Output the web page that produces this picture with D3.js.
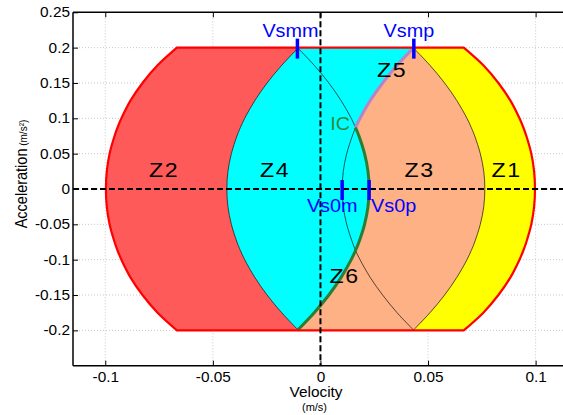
<!DOCTYPE html>
<html><head><meta charset="utf-8">
<script src="https://cdn.jsdelivr.net/npm/d3@7"></script>
<style>html,body{margin:0;padding:0;background:#fff;overflow:hidden}text{font-family:"Liberation Sans",Arial,sans-serif}</style>
</head><body><svg id="c" width="563" height="415"></svg>
<script>
// ---- data (velocity m/s vs acceleration m/s^2) ----
const accelLevels = [0.2, 0.175, 0.15, 0.125, 0.1, 0.087, 0.075, 0.05, 0.025, 0,
  -0.025, -0.05, -0.075, -0.087, -0.1, -0.125, -0.15, -0.175, -0.2];
const outerRightV = [0.0666, 0.0757, 0.0827, 0.0883, 0.0925, 0.0943, 0.0957, 0.098, 0.0993, 0.0997,
  0.0993, 0.098, 0.0957, 0.0943, 0.0925, 0.0883, 0.0827, 0.0757, 0.0666];
const outerLeftV = [-0.0667, -0.0757, -0.0827, -0.0883, -0.0925, -0.0943, -0.0957, -0.098, -0.0993, -0.0997,
  -0.0993, -0.098, -0.0957, -0.0943, -0.0925, -0.0883, -0.0827, -0.0757, -0.0667];
const z1z3V = [0.0431, 0.0509, 0.0577, 0.0634, 0.0681, 0.0701, 0.0717, 0.0743, 0.0759, 0.0764,
  0.0759, 0.0743, 0.0717, 0.0701, 0.0681, 0.0634, 0.0577, 0.0509, 0.0431];
const z2z4V = [-0.0102, -0.018, -0.0248, -0.0305, -0.0352, -0.0372, -0.0388, -0.0414, -0.043, -0.0435,
  -0.043, -0.0414, -0.0388, -0.0372, -0.0352, -0.0305, -0.0248, -0.018, -0.0102];
const curveAV = [-0.0107, -0.0029, 0.0039, 0.0096, 0.0143, 0.0163, 0.0179, 0.0205, 0.0221, 0.0226,
  0.0221, 0.0205, 0.0179, 0.0163, 0.0143, 0.0096, 0.0039, -0.0029, -0.0107];
const curveBV = [0.0434, 0.0356, 0.0289, 0.0231, 0.0184, 0.0163, 0.0148, 0.0122, 0.0106, 0.0101,
  0.0106, 0.0122, 0.0148, 0.0163, 0.0184, 0.0231, 0.0289, 0.0356, 0.0434];
const icIndex = 5; // IC point = accelLevels[5]
const xTicks = [-0.1, -0.05, 0, 0.05, 0.1];
const xTickLabels = ["-0.1", "-0.05", "0", "0.05", "0.1"];
const yTicks = [0.25, 0.2, 0.15, 0.1, 0.05, 0, -0.05, -0.1, -0.15, -0.2];
const yTickLabels = ["0.25", "0.2", "0.15", "0.1", "0.05", "0", "-0.05", "-0.1", "-0.15", "-0.2"];
const markerNames = ["Vsmm", "Vsmp", "Vs0m", "Vs0p"];
const markerV = [-0.0107, 0.0434, 0.0101, 0.0226];
const markerA = [0.2, 0.2, 0, 0];
const zoneNames = ["Z1", "Z2", "Z3", "Z4", "Z5", "Z6"];
const zoneV = [0.0865, -0.0727, 0.0461, -0.0211, 0.0333, 0.0112];
const zoneA = [0, 0, 0, 0, 0.142, -0.15];

// ---- layout ----
const W = 563, H = 415;
const x = d3.scaleLinear().domain([-0.115, 0.115]).range([73, 567.9]);
const y = d3.scaleLinear().domain([-0.25, 0.25]).range([365.7, 12.3]);
const svg = d3.select("#c");
const SX = 1.1;

const pts = vs => vs.map((v, i) => [v, accelLevels[i]]);
const line = d3.line().x(d => x(d[0])).y(d => y(d[1])).curve(d3.curveCatmullRom.alpha(0.5));
const join = (...ps) => ps.map((p, i) => i ? p.replace(/^M/, "L") : p).join("") + "Z";

const outerR = pts(outerRightV), outerL = pts(outerLeftV);
const z1z3 = pts(z1z3V), z2z4 = pts(z2z4V), A = pts(curveAV), B = pts(curveBV);
const outerLrev = outerL.slice().reverse();

// grid
const grid = svg.append("g").attr("stroke", "#c8c8c8").attr("stroke-width", 1).attr("stroke-dasharray", "1,2");
xTicks.forEach(t => grid.append("line").attr("x1", x(t)).attr("x2", x(t)).attr("y1", y(0.25)).attr("y2", y(-0.25)));
yTicks.filter(t => t < 0.25).forEach(t => grid.append("line").attr("x1", x(-0.115)).attr("x2", W).attr("y1", y(t)).attr("y2", y(t)));

// patches
svg.append("path").attr("d", join(line(outerR), line(outerLrev))).attr("fill", "#ffff00");
svg.append("path").attr("d", join(line(z1z3), line(outerLrev))).attr("fill", "#fdb184");
svg.append("path").attr("d", join(line(B.slice(0, icIndex + 1)), line(A.slice(icIndex)), line(outerLrev))).attr("fill", "#00ffff");
svg.append("path").attr("d", join(line(z2z4), line(outerLrev))).attr("fill", "#ff5a5a");

// thin boundaries
const thin = svg.append("g").attr("fill", "none").attr("stroke", "#111").attr("stroke-width", 0.7);
[z1z3, z2z4, A.slice(0, icIndex + 1), B.slice(icIndex)].forEach(p => thin.append("path").attr("d", line(p)));

// thick curves
svg.append("path").attr("d", line(B.slice(0, icIndex + 1))).attr("fill", "none").attr("stroke", "#b883c8").attr("stroke-width", 3);
svg.append("path").attr("d", line(A.slice(icIndex))).attr("fill", "none").attr("stroke", "#2a7d33").attr("stroke-width", 3);

// outer envelope
svg.append("path").attr("d", join(line(outerR), line(outerLrev))).attr("fill", "none").attr("stroke", "#ff0000").attr("stroke-width", 2.2);

// dashed zero lines
svg.append("line").attr("x1", x(-0.115)).attr("x2", W).attr("y1", y(0)).attr("y2", y(0))
  .attr("stroke", "#000").attr("stroke-width", 2).attr("stroke-dasharray", "6,3");
svg.append("line").attr("x1", x(0)).attr("x2", x(0)).attr("y1", y(0.25)).attr("y2", y(-0.25))
  .attr("stroke", "#000").attr("stroke-width", 2).attr("stroke-dasharray", "6,3");

// markers
markerNames.forEach((n, i) => {
  svg.append("line").attr("x1", x(markerV[i])).attr("x2", x(markerV[i]))
    .attr("y1", y(markerA[i]) - 9).attr("y2", y(markerA[i]) + 11)
    .attr("stroke", "#0000ff").attr("stroke-width", 3.5);
});

function txt(str, px, py, size, fill, anchor, extra) {
  const t = svg.append("text").attr("transform", `translate(${px},${py}) scale(${SX},1)`)
    .attr("font-size", size).attr("fill", fill).attr("text-anchor", anchor).text(str);
  if (extra) extra(t);
  return t;
}
// marker labels
const mlOff = [[-7, -10.7, "middle"], [-5, -10.7, "middle"], [-10, 23.4, "middle"], [2, 23.4, "start"]];
markerNames.forEach((n, i) => txt(n, x(markerV[i]) + mlOff[i][0], y(markerA[i]) + mlOff[i][1], 18, "#0000ff", mlOff[i][2]));
// IC label
txt("IC", x(curveAV[icIndex]) - 15.5, y(accelLevels[icIndex]) + 2, 18, "#2e8b3e", "middle");
// zone labels
zoneNames.forEach((n, i) => txt(n, x(zoneV[i]), y(zoneA[i]) - 11.6, 21, "#000", "middle", t => t.attr("letter-spacing", 1.5)));

// axes frame & ticks
const ax = svg.append("g").attr("stroke", "#000").attr("stroke-width", 1.5);
ax.append("line").attr("x1", x(-0.115)).attr("x2", x(-0.115)).attr("y1", y(0.25)).attr("y2", y(-0.25));
ax.append("line").attr("x1", x(-0.115)).attr("x2", W).attr("y1", y(-0.25)).attr("y2", y(-0.25));
ax.append("line").attr("x1", x(-0.115)).attr("x2", W).attr("y1", y(0.25)).attr("y2", y(0.25));

const gx = svg.append("g").attr("transform", `translate(0,${y(-0.25)})`)
  .call(d3.axisBottom(x).tickValues(xTicks).tickFormat((d, i) => xTickLabels[i]).tickSize(-5).tickSizeOuter(0).tickPadding(6));
const gt = svg.append("g").attr("transform", `translate(0,${y(0.25)})`)
  .call(d3.axisTop(x).tickValues(xTicks).tickFormat("").tickSize(-5).tickSizeOuter(0));
const gy = svg.append("g").attr("transform", `translate(${x(-0.115)},0)`)
  .call(d3.axisLeft(y).tickValues(yTicks).tickFormat((d, i) => yTickLabels[i]).tickSize(-5).tickSizeOuter(0).tickPadding(3));
[gx, gt, gy].forEach(g => {
  g.select(".domain").remove();
  g.selectAll("line").attr("stroke", "#000").attr("stroke-width", 1);
  g.selectAll("text").attr("font-size", 14).attr("font-family", '"Liberation Sans", Arial, sans-serif').attr("fill", "#000")
    .attr("transform", `scale(${SX},1)`);
});
gy.selectAll("text").attr("x", -3 / SX);

// axis titles
svg.append("text").attr("transform", `translate(26.5,174) scale(${SX},1) rotate(-90)`)
  .attr("text-anchor", "middle").attr("font-size", 14.5)
  .call(t => { t.append("tspan").text("Acceleration"); t.append("tspan").attr("font-size", 10).text(" (m/s²)"); });
txt("Velocity", 316, 397, 14, "#000", "middle");
txt("(m/s)", 314.5, 410.5, 10, "#000", "middle");
</script></body></html>
